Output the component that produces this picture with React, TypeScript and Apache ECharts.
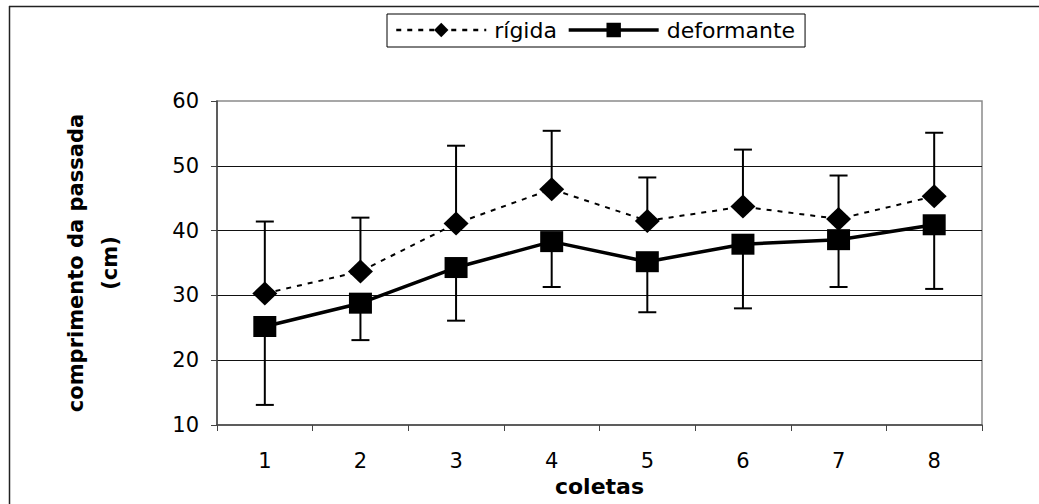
import React, { useEffect, useRef } from "react";
import * as echarts from "echarts";

const categories = ["1", "2", "3", "4", "5", "6", "7", "8"];
const rigida = [30.3, 33.7, 41.1, 46.4, 41.5, 43.7, 41.8, 45.3];
const rigidaUpper = [41.4, 42.0, 53.1, 55.4, 48.2, 52.5, 48.5, 55.1];
const deformante = [25.2, 28.8, 34.3, 38.3, 35.2, 37.9, 38.6, 40.9];
const deformanteLower = [13.1, 23.1, 26.1, 31.3, 27.4, 28.0, 31.3, 31.0];
const yTicks = { min: 10, max: 60, interval: 10 };

const FONT = "DejaVu Sans";

function errorRender(params: any, api: any) {
  const x = api.value(0);
  const a = api.coord([x, api.value(1)]);
  const b = api.coord([x, api.value(2)]);
  const half = 9;
  return {
    type: "group",
    children: [
      {
        type: "line",
        shape: { x1: a[0], y1: a[1], x2: b[0], y2: b[1] },
        style: { stroke: "#000", lineWidth: 2 },
      },
      {
        type: "line",
        shape: { x1: b[0] - half, y1: b[1], x2: b[0] + half, y2: b[1] },
        style: { stroke: "#000", lineWidth: 2 },
      },
    ],
  };
}

export default function App() {
  const ref = useRef<HTMLDivElement>(null);
  useEffect(() => {
    if (!ref.current) return;
    const chart = echarts.init(ref.current, undefined, { renderer: "svg" });
    chart.setOption({
      animation: false,
      backgroundColor: "#fff",
      textStyle: { fontFamily: FONT, color: "#000" },
      grid: {
        left: 217,
        right: 57,
        top: 101,
        bottom: 79,
        show: true,
        borderColor: "#8a8a8a",
        borderWidth: 1.5,
        backgroundColor: "transparent",
      },
      legend: {
        data: [
          {
            name: "rígida",
            lineStyle: { color: "#000", width: 2.5, type: [5, 6] },
            itemStyle: { color: "#000" },
          },
          {
            name: "deformante",
            lineStyle: { color: "#000", width: 3.5, type: "solid" },
            itemStyle: { color: "#000" },
          },
        ],
        left: 387,
        top: 14,
        padding: [5, 10, 6, 8],
        itemGap: 10,
        itemWidth: 90,
        itemHeight: 18,
        borderColor: "#000",
        borderWidth: 1,
        backgroundColor: "#fff",
        textStyle: { fontFamily: FONT, fontSize: 22, color: "#000", padding: [0, 0, 0, 3] },
      },
      xAxis: {
        type: "category",
        data: categories,
        boundaryGap: true,
        name: "coletas",
        nameLocation: "middle",
        nameGap: 47,
        nameTextStyle: { fontFamily: FONT, fontSize: 22, fontWeight: "bold", color: "#000" },
        axisLine: { show: true, lineStyle: { color: "#444", width: 1.5 } },
        axisTick: { show: true, alignWithLabel: false, length: 6, lineStyle: { color: "#444", width: 1 } },
        axisLabel: { fontFamily: FONT, fontSize: 21, color: "#000", margin: 25 },
        splitLine: { show: false },
      },
      yAxis: {
        type: "value",
        min: yTicks.min,
        max: yTicks.max,
        interval: yTicks.interval,
        name: "comprimento da passada\n(cm)",
        nameLocation: "middle",
        nameRotate: 90,
        nameGap: 90,
        nameTextStyle: {
          fontFamily: FONT,
          fontSize: 21,
          fontWeight: "bold",
          color: "#000",
          lineHeight: 34,
          align: "center",
        },
        axisLine: { show: true, lineStyle: { color: "#444", width: 1.5 } },
        axisTick: { show: true, length: 6, lineStyle: { color: "#444", width: 1 } },
        axisLabel: { fontFamily: FONT, fontSize: 21, color: "#000", margin: 18 },
        splitLine: {
          show: true,
          showMinLine: false,
          showMaxLine: false,
          lineStyle: { color: "#111", width: 1 },
        },
      },
      series: [
        {
          name: "rígida-erro",
          type: "custom",
          renderItem: errorRender,
          data: categories.map((_, i) => [i, rigida[i], rigidaUpper[i]]),
          z: 1,
          silent: true,
        },
        {
          name: "deformante-erro",
          type: "custom",
          renderItem: errorRender,
          data: categories.map((_, i) => [i, deformante[i], deformanteLower[i]]),
          z: 1,
          silent: true,
        },
        {
          name: "rígida",
          type: "line",
          data: rigida,
          symbol: "diamond",
          symbolSize: [25, 24],
          itemStyle: { color: "#000" },
          lineStyle: { color: "#000", width: 2, type: [5, 6] },
          z: 3,
        },
        {
          name: "deformante",
          type: "line",
          data: deformante,
          symbol: "rect",
          symbolSize: [23, 21],
          itemStyle: { color: "#000" },
          lineStyle: { color: "#000", width: 3.5, type: "solid" },
          z: 4,
        },
      ],
      graphic: [
        {
          type: "line",
          shape: { x1: 9, y1: 6.5, x2: 1039, y2: 6.5 },
          style: { stroke: "#222", lineWidth: 1.5 },
        },
        {
          type: "line",
          shape: { x1: 9.5, y1: 6, x2: 9.5, y2: 504 },
          style: { stroke: "#222", lineWidth: 1.5 },
        },
      ],
    });
    return () => chart.dispose();
  }, []);
  return (
    <div
      ref={ref}
      style={{ position: "fixed", left: 0, top: 0, width: 1039, height: 504, background: "#fff" }}
    />
  );
}
